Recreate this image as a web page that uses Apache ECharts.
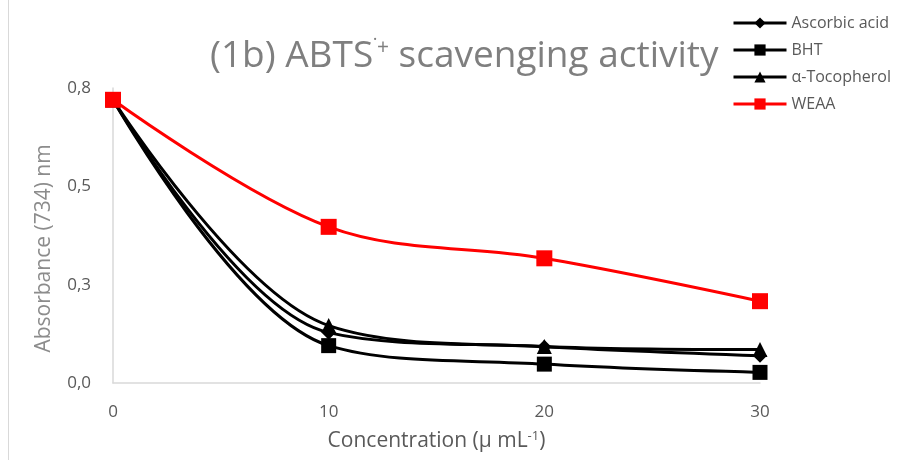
<!DOCTYPE html>
<html>
<head>
<meta charset="utf-8">
<script src="https://cdn.jsdelivr.net/npm/echarts@6/dist/echarts.min.js"></script>
<style>
  html, body { margin: 0; padding: 0; background: #fff; }
  #chart { width: 905px; height: 460px; }
</style>
</head>
<body>
<div id="chart"></div>
<script>
// Concentrations (µ mL-1) on the x axis
const concentrations = [0, 10, 20, 30];

// Absorbance at 734 nm for each antioxidant
const ascorbicAcid = [0.72, 0.128, 0.092, 0.069];
const bht          = [0.72, 0.095, 0.048, 0.027];
const tocopherol   = [0.72, 0.146, 0.093, 0.085];
const weaa         = [0.72, 0.397, 0.317, 0.208];

// Y axis tick values
const yTicks = [0, 0.25, 0.5, 0.75];

const seriesNames = ['Ascorbic acid', 'BHT', 'α-Tocopherol', 'WEAA'];

const textColor = '#595959';
const axisColor = '#d9d9d9';

function pairs(values) {
  return concentrations.map((c, i) => [c, values[i]]);
}

const chart = echarts.init(document.getElementById('chart'), null, { renderer: 'canvas' });

function lineSeries(name, values, color, symbol, size) {
  return {
    name: name,
    type: 'line',
    data: pairs(values),
    smooth: 0.35,
    symbol: symbol,
    symbolSize: size,
    showAllSymbol: true,
    lineStyle: { color: color, width: 3 },
    itemStyle: { color: color, borderWidth: 0 },
    emphasis: { disabled: true },
    z: 3
  };
}

chart.setOption({
  animation: false,
  backgroundColor: '#ffffff',
  textStyle: { fontFamily: 'Open Sans' },
  title: {
    text: '(1b) ABTS{sup|˙+} scavenging activity',
    left: 205,
    top: 33,
    textStyle: {
      fontFamily: 'Open Sans',
      fontSize: 37,
      fontWeight: 'normal',
      color: '#7f7f7f',
      rich: {
        sup: {
          fontFamily: 'Open Sans',
          fontSize: 21,
          color: '#7f7f7f',
          verticalAlign: 'top',
          padding: [0, 0, 15, 0]
        }
      }
    }
  },
  legend: {
    orient: 'vertical',
    left: 727,
    top: 10,
    itemWidth: 53,
    itemHeight: 14,
    itemGap: 11,
    data: seriesNames,
    lineStyle: { width: 3 },
    textStyle: { color: textColor, fontSize: 16, fontFamily: 'Open Sans' }
  },
  grid: { left: 113, right: 145, top: 88, bottom: 77, containLabel: false },
  xAxis: {
    type: 'value',
    min: 0,
    max: 30,
    interval: 10,
    name: 'Concentration (µ mL{sup|-1})',
    nameLocation: 'middle',
    nameGap: 47,
    nameTextStyle: {
      color: textColor,
      fontSize: 21,
      fontFamily: 'Open Sans',
      rich: {
        sup: { fontSize: 13, color: textColor, fontFamily: 'Open Sans', verticalAlign: 'top', padding: [0, 0, 10, 0] }
      }
    },
    axisLine: { show: true, lineStyle: { color: axisColor, width: 1.5 } },
    axisTick: { show: false },
    splitLine: { show: false },
    axisLabel: { color: textColor, fontSize: 17, margin: 21 }
  },
  yAxis: {
    type: 'value',
    min: yTicks[0],
    max: yTicks[yTicks.length - 1],
    interval: yTicks[1] - yTicks[0],
    name: 'Absorbance (734) nm',
    nameLocation: 'middle',
    nameGap: 58,
    nameTextStyle: { color: '#8c8c8c', fontSize: 21, fontFamily: 'Open Sans', padding: [0, 26, 0, 0] },
    axisLine: { show: true, lineStyle: { color: axisColor, width: 1.5 } },
    axisTick: { show: false },
    splitLine: { show: false },
    axisLabel: {
      color: textColor,
      fontSize: 17,
      margin: 22,
      formatter: v => v.toFixed(1).replace('.', ',')
    }
  },
  graphic: [
    {
      type: 'line',
      shape: { x1: 8.5, y1: 0, x2: 8.5, y2: 460 },
      style: { stroke: axisColor, lineWidth: 1 },
      silent: true
    }
  ],
  series: [
    lineSeries(seriesNames[0], ascorbicAcid, '#000000', 'diamond', 14),
    lineSeries(seriesNames[1], bht, '#000000', 'rect', 15),
    lineSeries(seriesNames[2], tocopherol, '#000000', 'triangle', 15),
    lineSeries(seriesNames[3], weaa, '#ff0000', 'rect', 16)
  ]
});
</script>
</body>
</html>
